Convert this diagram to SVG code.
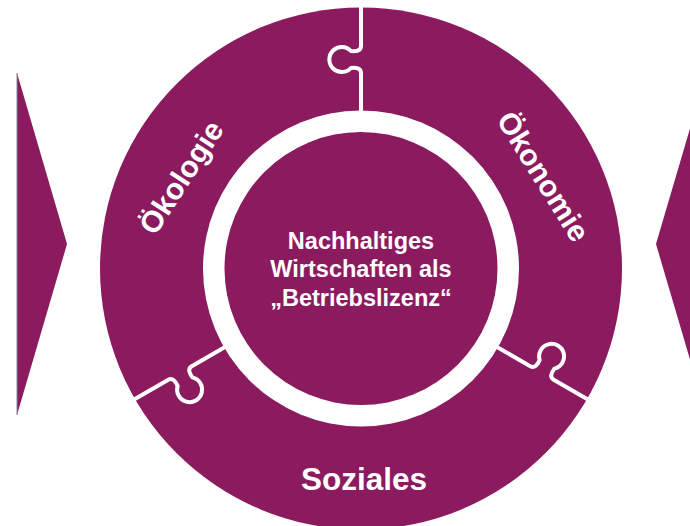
<svg xmlns="http://www.w3.org/2000/svg" xmlns:xlink="http://www.w3.org/1999/xlink" width="690" height="526" viewBox="0 0 690 526">
<style>
.purple{fill:#8B1A5E}
.lbl{font-family:"Liberation Sans",Arial,sans-serif;font-weight:bold;fill:#ffffff;text-anchor:middle}
.div{fill:none;stroke:#ffffff;stroke-width:4;stroke-linejoin:round;stroke-linecap:butt}
</style>
<defs>
<path id="divider" class="div" d="M361,4 V46 C361,51 356,51.5 351,51 A12.5,12.5 0 1,0 351,68 C356,67.5 361,68 361,73 V113"/>
</defs>
<rect width="690" height="526" fill="#ffffff"/>
<g id="arrow-left">
<polygon class="purple" points="17,73 67,244 17,415"/>
<line x1="17" y1="73" x2="17" y2="415" stroke="#7d8a98" stroke-width="1"/>
</g>
<g id="arrow-right">
<polygon class="purple" points="656,244 706,74 706,414"/>
</g>
<g id="ring">
<circle class="purple" cx="361" cy="268.5" r="261"/>
</g>
<g id="connectors">
<use xlink:href="#divider"/>
<use xlink:href="#divider" transform="rotate(120 361 268.5)"/>
<use xlink:href="#divider" transform="rotate(240 361 268.5)"/>
</g>
<g id="oekologie">
<text class="lbl" font-size="30" transform="translate(190,183) rotate(-57)">Ökologie</text>
</g>
<g id="oekonomie">
<text class="lbl" font-size="30" transform="translate(534.5,182) rotate(58)">Ökonomie</text>
</g>
<g id="soziales">
<text class="lbl" font-size="31.5" x="364" y="490">Soziales</text>
</g>
<g id="center">
<circle cx="361" cy="268.5" r="158" fill="#ffffff"/>
<circle class="purple" cx="361" cy="268.5" r="136.5"/>
<text class="lbl" font-size="23.5" x="361" y="249">Nachhaltiges</text>
<text class="lbl" font-size="23.5" x="361" y="277">Wirtschaften als</text>
<text class="lbl" font-size="23.5" x="361" y="305.5">„Betriebslizenz“</text>
</g>
</svg>
